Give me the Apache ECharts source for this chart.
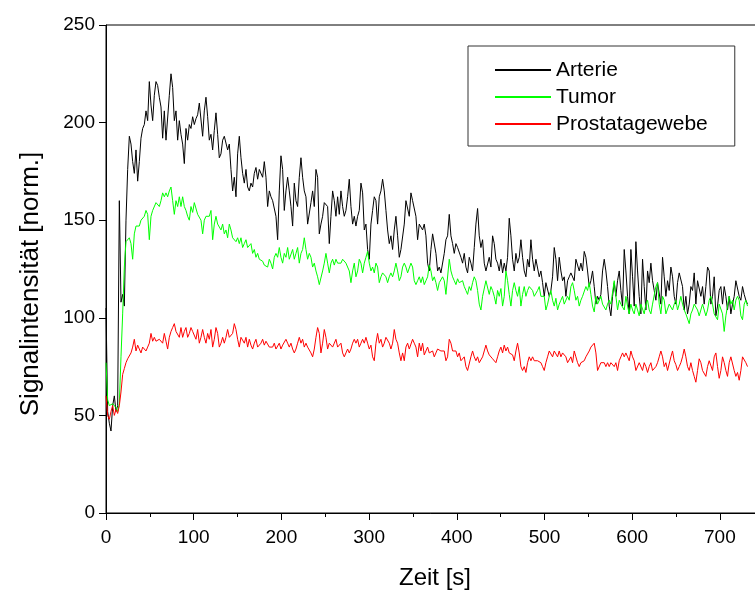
<!DOCTYPE html>
<html>
<head>
<meta charset="utf-8">
<script src="https://cdn.jsdelivr.net/npm/echarts@6/dist/echarts.min.js"></script>
<style>
html,body{margin:0;padding:0;background:#fff;}
#chart{width:755px;height:595px;}
</style>
</head>
<body>
<div id="chart"></div>
<script>
// sampling interval of the measurement (seconds per sample)
const sampleInterval = 1.9;

const seriesNames = ['Arterie', 'Tumor', 'Prostatagewebe'];
const xTicks = [0, 100, 200, 300, 400, 500, 600, 700];
const yTicks = [0, 50, 100, 150, 200, 250];

const arterie = [
105,52,46,42,55,60,52,55,160,108,112,106,150,176,193,189,180,174,186,170,
180,192,197,199,206,201,221,209,201,214,221,219,213,208,192,206,191,191,214,225,
218,201,206,191,201,194,189,179,197,191,199,197,203,
199,202,204,210,211,193,206,213,203,191,194,186,196,205,194,182,184,191,193,194,
186,189,176,165,172,162,184,193,182,174,169,176,167,165,169,167,174,177,171,176,
177,172,180,172,157,165,162,160,159,152,140,165,183,176,155,165,172,165,157,147,
169,160,157,172,182,172,165,162,148,147,159,165,157,176,172,143,148,152,159,160,
157,138,152,165,160,152,162,153,165,157,152,155,162,171,157,148,152,147,152,155,
169,164,145,148,135,130,148,155,162,160,148,162,165,171,165,155,145,138,142,135,
145,152,142,131,135,136,148,160,159,152,164,160,
160,152,140,148,147,145,148,142,128,124,135,143,142,133,124,126,123,124,133,140,
142,153,142,138,133,138,136,135,131,128,133,126,123,131,128,124,136,148,156,142,
136,140,128,124,123,131,126,142,138,130,128,124,130,123,128,124,131,151,142,130,
124,133,128,131,140,131,124,121,130,126,140,130,124,130,130,121,124,118,111,118,
119,111,114,121,136,130,119,131,124,119,121,111,119,121,123,124,119,130,131,124,
128,124,134,131,124,116,119,124,116,107,111,109,112,124,130,124,116,106,101,111,
118,111,119,124,114,106,135,124,111,102,135,121,106,139,124,111,102,130,116,104,
124,118,128,119,114,109,118,119,107,131,121,111,119,114,126,121,111,107,118,123,
124,116,104,111,102,107,116,114,123,107,119,118,111,116,107,116,126,124,107,111,
121,101,106,114,116,107,116,111,104,111,102,107,111,119,118,111,109,116,112,109,
107
];

const tumor = [
77,58,55,54,56,55,54,52,56,80,102,126,139,140,141,138,130,143,147,148,
147,150,149,152,155,153,140,152,155,154,159,160,157,160,164,162,164,162,165,167,
160,153,160,157,162,157,162,157,155,152,150,157,154,
159,158,153,152,150,143,150,152,153,152,155,140,148,152,148,147,145,148,143,145,
141,148,145,141,140,139,141,138,141,136,138,140,136,135,138,133,135,131,133,130,
131,129,127,128,126,130,128,125,131,133,131,136,131,128,133,131,136,130,131,135,
130,133,136,128,133,135,141,135,130,133,131,126,128,124,121,117,118,124,128,133,
128,123,128,130,127,130,128,129,128,130,129,128,129,124,118,124,128,121,124,130,
128,123,128,131,134,128,124,126,123,128,126,118,121,123,122,121,118,121,123,121,
124,128,124,119,121,126,128,126,123,124,128,126,
119,117,119,121,118,121,117,119,121,127,124,119,121,118,114,118,118,121,119,112,
111,130,124,121,119,117,120,118,117,119,116,114,112,116,114,118,121,119,114,107,
104,111,112,119,118,112,116,114,111,107,114,111,115,106,111,124,119,112,106,114,
118,114,111,116,106,112,116,111,114,116,117,114,111,112,114,116,111,110,111,104,
107,111,114,109,106,110,104,107,109,111,107,106,111,109,116,118,114,109,111,106,
109,111,112,116,114,118,112,106,103,111,107,109,111,107,106,104,107,109,107,106,
119,111,104,109,107,106,104,111,106,102,107,104,102,107,106,101,107,106,102,107,
109,104,102,107,106,116,118,107,102,111,109,102,101,107,106,104,107,109,104,107,
111,107,104,102,101,97,102,104,107,106,104,101,102,107,106,101,104,109,111,107,
102,101,99,107,106,102,93,101,106,111,107,109,104,109,111,109,101,99,107,109,
106
];

const prostatagewebe = [
60,50,48,52,55,50,53,51,55,62,71,74,77,79,80,82,85,89,83,86,
84,82,85,84,83,85,87,92,88,90,88,87,89,90,87,92,88,84,90,93,
95,97,93,92,90,95,90,93,95,90,92,95,93,
92,89,94,87,90,94,90,87,92,89,94,85,89,95,92,85,87,90,87,90,
94,90,89,92,97,94,89,85,90,89,87,90,85,89,86,84,87,89,85,84,
87,89,86,88,87,85,86,85,87,84,85,87,84,86,87,89,87,85,87,84,
82,84,87,90,87,89,85,87,85,84,82,80,84,90,95,92,82,87,94,90,
84,87,87,85,87,89,85,84,87,82,80,82,84,82,84,87,89,87,89,85,
87,89,87,90,87,84,86,80,78,87,92,87,89,85,87,90,89,87,84,87,
94,89,87,82,78,82,78,85,87,84,85,89,
87,85,80,87,83,87,81,83,85,82,83,83,80,82,84,83,83,82,83,78,
80,89,87,83,83,83,80,82,78,78,80,75,73,72,80,83,80,78,80,77,
78,80,83,86,83,81,80,79,78,77,80,83,85,82,86,83,85,82,83,81,
78,83,87,82,75,73,75,72,77,80,78,80,78,78,78,78,77,75,73,77,
80,83,83,80,83,82,80,83,80,82,83,80,77,78,80,77,83,80,77,75,
77,78,78,80,81,83,85,86,87,82,73,72,77,78,77,75,77,75,77,78,
75,77,73,78,80,82,80,82,80,78,83,80,78,73,72,77,78,73,77,75,
72,75,77,73,72,75,77,80,83,80,75,77,73,72,80,83,78,76,73,75,
77,80,84,80,75,73,77,73,70,67,73,79,77,73,72,70,75,78,77,73,
80,82,75,69,73,80,77,73,70,77,80,79,73,70,72,68,73,80,81,77,
75
];

const seriesValues = [arterie, tumor, prostatagewebe];
const seriesColors = ['#000000', '#00ff00', '#ff0000'];

function toPairs(vals) {
  return vals.map((v, i) => [Math.round(i * sampleInterval * 10) / 10, v]);
}

const FONT = '"Liberation Sans", Arial, Helvetica, sans-serif';
const chart = echarts.init(document.getElementById('chart'), null, {renderer: 'canvas'});

chart.setOption({
  animation: false,
  backgroundColor: '#ffffff',
  grid: {
    left: 106, top: 25, height: 488, width: 701.6,
    outerBoundsMode: 'none',
    show: true, borderColor: '#000', borderWidth: 1, backgroundColor: 'transparent',
    containLabel: false
  },
  xAxis: {
    type: 'value', min: 0, max: 800, interval: 100,
    axisLine: {show: true, onZero: false, lineStyle: {color: '#000', width: 1}},
    axisTick: {show: true, inside: false, length: 7, lineStyle: {color: '#000', width: 1}},
    minorTick: {show: true, splitNumber: 2, length: 4, lineStyle: {color: '#000', width: 1}},
    splitLine: {show: false},
    axisLabel: {
      color: '#000', fontFamily: FONT, fontSize: 19, margin: 15,
      formatter: v => (xTicks.indexOf(v) >= 0 ? String(v) : '')
    }
  },
  yAxis: {
    type: 'value', min: 0, max: 250, interval: 50,
    axisLine: {show: true, onZero: false, lineStyle: {color: '#000', width: 1}},
    axisTick: {show: true, inside: false, length: 7, lineStyle: {color: '#000', width: 1}},
    splitLine: {show: false},
    axisLabel: {
      color: '#000', fontFamily: FONT, fontSize: 19, margin: 11,
      formatter: v => (yTicks.indexOf(v) >= 0 ? String(v) : '')
    }
  },
  legend: {
    orient: 'vertical',
    left: 468, top: 46,
    padding: [13, 27, 11, 27],
    itemGap: 5,
    itemWidth: 56, itemHeight: 2,
    icon: 'rect',
    borderColor: '#333', borderWidth: 1,
    backgroundColor: '#fff',
    textStyle: {color: '#000', fontFamily: FONT, fontSize: 21, lineHeight: 22, padding: [0, 0, 0, 0]},
    data: seriesNames
  },
  graphic: [
    {
      type: 'text', x: 435, y: 578,
      style: {text: 'Zeit [s]', fontFamily: FONT, fontSize: 24, fill: '#000', align: 'center', verticalAlign: 'middle'}
    },
    {
      type: 'text', x: 31, y: 284, rotation: Math.PI / 2,
      style: {text: 'Signalintensität [norm.]', fontFamily: FONT, fontSize: 26, fill: '#000', align: 'center', verticalAlign: 'middle'}
    }
  ],
  series: seriesNames.map((name, idx) => ({
    name: name,
    type: 'line',
    data: toPairs(seriesValues[idx]),
    showSymbol: false,
    symbol: 'none',
    clip: true,
    lineStyle: {color: seriesColors[idx], width: 1},
    itemStyle: {color: seriesColors[idx]},
    emphasis: {disabled: true}
  }))
});
</script>
</body>
</html>
